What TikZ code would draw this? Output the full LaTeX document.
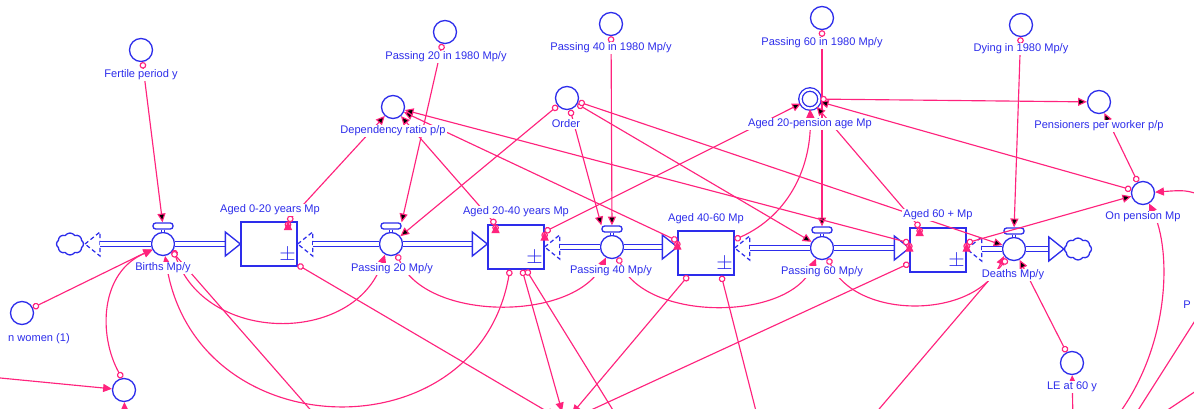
\documentclass[tikz,border=0pt]{standalone}
\usepackage{fontspec}
\setmainfont{Liberation Sans}
\usetikzlibrary{arrows.meta,shapes.symbols}

\definecolor{sdblue}{RGB}{45,45,235}
\definecolor{sdpink}{RGB}{255,35,125}

\begin{document}
\begin{tikzpicture}[x=0.02cm, y=-0.02cm]
  \tikzstyle{aux}=[circle, draw=sdblue, line width=0.75pt, fill=white, minimum size=0.46cm, inner sep=0pt]
  \tikzstyle{valve}=[circle, draw=sdblue, line width=0.75pt, fill=white, minimum size=0.46cm, inner sep=0pt]
  \tikzstyle{handle}=[rectangle, rounded corners=1.5pt, draw=sdblue, line width=0.75pt, fill=white, minimum width=0.4cm, minimum height=0.12cm, inner sep=0pt]
  \tikzstyle{stock}=[rectangle, draw=sdblue, line width=0.75pt, fill=white, minimum width=1.12cm, minimum height=0.88cm, inner sep=0pt]
  \tikzstyle{cloudy}=[cloud, cloud puffs=8, cloud puff arc=110, aspect=1.3, draw=sdblue, line width=0.75pt, fill=white, minimum width=0.54cm, minimum height=0.44cm, inner sep=0pt]
  \tikzstyle{lbl}=[text=sdblue, fill=white, inner sep=0.6pt, font=\fontsize{6.3}{7}\selectfont]
  \tikzstyle{pm}=[text=sdblue, inner sep=0pt, font=\fontsize{12}{12}\selectfont]
  \tikzstyle{pipe}=[draw=sdblue, line width=0.7pt, double=white, double distance=1.9pt]
  \tikzstyle{stem}=[draw=sdblue, line width=0.6pt, double=white, double distance=1.3pt]
  \tikzstyle{inflow}=[draw=sdblue, line width=0.75pt, fill=white, line join=miter]
  \tikzstyle{tail}=[draw=sdblue, line width=0.7pt, dash pattern=on 2.4pt off 1.6pt]
  \tikzstyle{link}=[draw=sdpink, line width=0.65pt, {Circle[length=3.8pt,fill=white]}-{Triangle[length=5pt,width=4.6pt]}]
  \tikzstyle{inlink}=[draw=sdpink, line width=0.65pt, -{Triangle[length=5pt,width=4.6pt]}]
  \tikzstyle{outlink}=[draw=sdpink, line width=0.65pt, {Circle[length=3.8pt,fill=white]}-]
  \tikzstyle{wire}=[draw=sdpink, line width=0.65pt]

  \useasboundingbox (0,0) rectangle (1194,409);
  \clip (0,0) rectangle (1194,409);

  % stocks
  \node[stock] (a0)  at (269, 244) {};
  \node[stock] (a20) at (516, 247) {};
  \node[stock] (a40) at (706, 253) {};
  \node[stock] (a60) at (938, 250) {};

  % valves
  \node[valve]  (births)  at (163,  244) {};
  \node[handle] (birthsH) at (163,  226) {};
  \node[valve]  (p20)     at (391,  244) {};
  \node[handle] (p20H)    at (391,  226) {};
  \node[valve]  (p40)     at (612,  247) {};
  \node[handle] (p40H)    at (612,  229) {};
  \node[valve]  (p60)     at (822,  248) {};
  \node[handle] (p60H)    at (822,  230) {};
  \node[valve]  (deaths)  at (1014, 249) {};
  \node[handle] (deathsH) at (1014, 231) {};

  \node[cloudy] (cloudL) at (70,   244) {};
  \node[cloudy] (cloudR) at (1078, 249) {};

  % auxiliaries
  \node[aux] (fert)  at (141,  50)  {};
  \node[aux] (p20in) at (445,  32)  {};
  \node[aux] (p40in) at (611,  24)  {};
  \node[aux] (p60in) at (822,  18)  {};
  \node[aux] (dying) at (1021, 25)  {};
  \node[aux] (dep)   at (393,  107) {};
  \node[aux] (order) at (567,  98)  {};
  \node[aux, minimum size=0.38cm, double, double distance=1.2pt] (ag20p) at (810, 99) {};
  \node[aux] (pens)  at (1099, 102) {};
  \node[aux] (onp)   at (1143, 193) {};
  \node[aux] (nwom)  at (22,   313) {};
  \node[aux] (bl)    at (124,  390) {};
  \node[aux] (le)    at (1072, 363) {};

  % ends outside the frame
  \coordinate (extL)  at (-10,  377);
  \coordinate (botBL) at (125,  425);
  \coordinate (botC)  at (315,  415);
  \coordinate (tgt)   at (565,  422);
  \coordinate (botD)  at (616,  415);
  \coordinate (botE)  at (757,  415);
  \coordinate (botF)  at (874,  415);
  \coordinate (botLE) at (1073, 425);
  \coordinate (botI)  at (1118, 415);
  \coordinate (extR)  at (1205, 196);
  \coordinate (extJ)  at (1205, 305);
  \coordinate (botJ)  at (1135, 415);
  \coordinate (extK)  at (1205, 385);
  \coordinate (botK)  at (1160, 415);

  % pipe ends
  \coordinate (cloudLout) at (100, 244);
  \coordinate (a20in)  at (a20.west |- p20);
  \coordinate (a40in)  at (a40.west |- p40);
  \coordinate (a60in)  at (a60.west |- p60);
  \coordinate (a20out) at (a20.east |- p40);
  \coordinate (a40out) at (a40.east |- p60);
  \coordinate (a60out) at (a60.east |- deaths);
  \coordinate (cloudRin) at (cloudR.west |- deaths);

  % flows
  \draw[tail] ([xshift=-0.3cm]cloudLout) -- ++(15,-12) -- ++(0,24) -- cycle;
  \draw[pipe] (cloudLout) -- (births);
  \draw[pipe] (births) -- ([xshift=-0.3cm]a0.west);
  \draw[inflow] (a0.west) -- ++(-15,-12) -- ++(0,24) -- cycle;

  \draw[tail] (a0.east) -- ++(15,-12) -- ++(0,24) -- cycle;
  \draw[pipe] ([xshift=0.3cm]a0.east) -- (p20);
  \draw[pipe] (p20) -- ([xshift=-0.3cm]a20in);
  \draw[inflow] (a20in) -- ++(-15,-12) -- ++(0,24) -- cycle;

  \draw[tail] (a20out) -- ++(15,-12) -- ++(0,24) -- cycle;
  \draw[pipe] ([xshift=0.3cm]a20out) -- (p40);
  \draw[pipe] (p40) -- ([xshift=-0.3cm]a40in);
  \draw[inflow] (a40in) -- ++(-15,-12) -- ++(0,24) -- cycle;

  \draw[tail] (a40out) -- ++(15,-12) -- ++(0,24) -- cycle;
  \draw[pipe] ([xshift=0.3cm]a40out) -- (p60);
  \draw[pipe] (p60) -- ([xshift=-0.3cm]a60in);
  \draw[inflow] (a60in) -- ++(-15,-12) -- ++(0,24) -- cycle;

  \draw[tail] (a60out) -- ++(15,-12) -- ++(0,24) -- cycle;
  \draw[pipe] ([xshift=0.3cm]a60out) -- (deaths);
  \draw[pipe] (deaths) -- ([xshift=-0.3cm]cloudRin);
  \draw[inflow] (cloudRin) -- ++(-15,-12) -- ++(0,24) -- cycle;

  \draw[stem] (birthsH.south) -- (births.north);
  \draw[stem] (p20H.south)    -- (p20.north);
  \draw[stem] (p40H.south)    -- (p40.north);
  \draw[stem] (p60H.south)    -- (p60.north);
  \draw[stem] (deathsH.south) -- (deaths.north);

  % links
  \path[link] (fert)  edge (birthsH);
  \path[link] (nwom)  edge (births);
  \path[link] (p20in) edge (p20H.north east);
  \path[link] (p40in) edge (p40H);
  \path[link] (p60in) edge (p60H);
  \path[link] (dying) edge (deathsH);
  \path[link] (order) edge (p20);
  \path[link] (order) edge (p40H.north west);
  \path[link] (order) edge (p60);
  \path[link] (order) edge (deaths);
  \path[link] (a0.50)   edge (dep);
  \path[link] (a20.132) edge (dep);
  \path[link] (a40.157) edge (dep);
  \path[link] (a60.166) edge (dep);
  \path[link] (a20.28)  edge (ag20p);
  \path[link] (a60.129) edge (ag20p);
  \path[link] (ag20p)   edge (pens);
  \path[link] (onp)     edge (ag20p);
  \path[link] (onp)     edge (pens);
  \path[link] (a60.14)  edge (onp);
  \path[link] (le)      edge (deaths);

  \draw[link] (births.-30) .. controls (205,345) and (355,345) .. (p20.240);
  \draw[link] (p20.-60) .. controls (425,322) and (575,322) .. (p40.240);
  \draw[link] (p40.-60) .. controls (645,322) and (790,322) .. (p60.240);
  \draw[link] (p60.-60) .. controls (855,320) and (975,320) .. (deaths.215);
  \draw[link] (a20.-105) .. controls (478,455) and (195,450) .. (births.-80);
  \draw[link] (bl.100) .. controls (98,335) and (100,272) .. (births.210);
  \draw[link] (a40.25) .. controls (790,215) and (812,165) .. (ag20p.south);

  \draw[link, shorten >=0.22cm] (a0.-36)   -- (tgt);
  \draw[link, shorten >=0.22cm] (a20.-75)  -- (tgt);
  \draw[link, shorten >=0.22cm] (a40.-128) -- (tgt);
  \draw[link, shorten >=0.22cm] (a60.205)  -- (tgt);
  \draw[outlink] (births.-40) -- (botC);
  \draw[outlink] (a20.-66)    -- (botD);
  \draw[outlink] (a40.-56)    -- (botE);
  \draw[outlink] (deaths.235) -- (botF);

  \draw[inlink] (extL)  -- (bl);
  \draw[inlink] (botBL) -- (bl);
  \draw[inlink] (botLE) -- (le);
  \draw[inlink] (botI) .. controls (1170,345) and (1172,250) .. (onp.-60);
  \draw[inlink] (extR) .. controls (1185,190) .. (onp);
  \draw[wire] (extJ) -- (botJ);
  \draw[wire] (extK) -- (botK);

  % signs in the stocks
  \node[pm] (a0pm)  at ([shift={(-10,-11)}]a0.south east)  {$\pm$};
  \node[pm] (a20pm) at ([shift={(-10,-11)}]a20.south east) {$\pm$};
  \node[pm] (a40pm) at ([shift={(-10,-11)}]a40.south east) {$\pm$};
  \node[pm] (a60pm) at ([shift={(-10,-11)}]a60.south east) {$\pm$};

  % labels
  \node[lbl] (fertL)   at (141,  75)  {Fertile period y};
  \node[lbl] (p20inL)  at (446,  57)  {Passing 20 in 1980 Mp/y};
  \node[lbl] (p40inL)  at (611,  48)  {Passing 40 in 1980 Mp/y};
  \node[lbl] (p60inL)  at (822,  43)  {Passing 60 in 1980 Mp/y};
  \node[lbl] (dyingL)  at (1021, 49)  {Dying in 1980 Mp/y};
  \node[lbl] (depL)    at (393,  131) {Dependency ratio p/p};
  \node[lbl] (orderL)  at (566,  124) {Order};
  \node[lbl] (ag20pL)  at (810,  124) {Aged 20-pension age Mp};
  \node[lbl] (pensL)   at (1099, 126) {Pensioners per worker p/p};
  \node[lbl] (onpL)    at (1143, 217) {On pension Mp};
  \node[lbl] (nwomL)   at (39,   339) {n women (1)};
  \node[lbl] (leL)     at (1072, 387) {LE at 60 y};
  \node[lbl] (pL)      at (1187, 305) {P};
  \node[lbl] (a0L)     at (270,  210) {Aged 0-20 years Mp};
  \node[lbl] (a20L)    at (516,  212) {Aged 20-40 years Mp};
  \node[lbl] (a40L)    at (706,  219) {Aged 40-60 Mp};
  \node[lbl] (a60L)    at (938,  215) {Aged 60 + Mp};
  \node[lbl] (birthsL) at (163,  268) {Births Mp/y};
  \node[lbl] (p20L)    at (392,  269) {Passing 20 Mp/y};
  \node[lbl] (p40L)    at (611,  271) {Passing 40 Mp/y};
  \node[lbl] (p60L)    at (822,  272) {Passing 60 Mp/y};
  \node[lbl] (deathsL) at (1013, 275) {Deaths Mp/y};
\end{tikzpicture}
\end{document}
